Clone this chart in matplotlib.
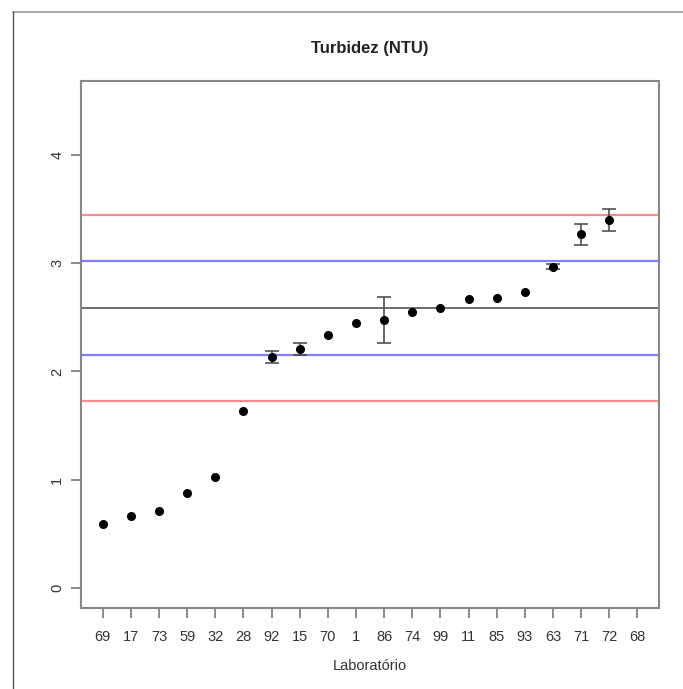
import numpy as np
import matplotlib
matplotlib.use("Agg")
import matplotlib.pyplot as plt
from matplotlib.lines import Line2D

plt.rcParams['font.family'] = ['Liberation Sans', 'DejaVu Sans']

# labs ordered by result
labs = ["69", "17", "73", "59", "32", "28", "92", "15", "70", "1",
        "86", "74", "99", "11", "85", "93", "63", "71", "72", "68"]
values = [0.591, 0.668, 0.711, 0.880, 1.023, 1.632, 2.134, 2.211, 2.334, 2.445,
          2.476, 2.547, 2.584, 2.667, 2.676, 2.737, 2.968, 3.265, 3.397, np.nan]
errors = [0, 0, 0, 0, 0, 0, 0.058, 0.055, 0, 0,
          0.214, 0, 0, 0, 0, 0, 0.025, 0.100, 0.099, 0]

center = 2.585
lim_warn = [2.155, 3.015]
lim_action = [1.725, 3.445]

fig = plt.figure(figsize=(6.83, 6.89), dpi=100)
ax = fig.add_axes([0.1186, 0.118, 0.8463, 0.7644])

x = np.arange(1, len(labs) + 1)
vals = np.array(values)
errs = np.array(errors)

ax.axhline(center, color="#555555", lw=1.2, zorder=1)
for v in lim_warn:
    ax.axhline(v, color="#8080ff", lw=1.6, zorder=1)
for v in lim_action:
    ax.axhline(v, color="#ff8a8a", lw=1.6, zorder=1)

has_err = errs > 0
ax.errorbar(x[has_err], vals[has_err], yerr=errs[has_err], fmt="none",
            ecolor="#444444", elinewidth=1.1, capsize=5, capthick=1.1, zorder=2)
ax.plot(x, vals, "o", color="black", markersize=5.5, zorder=3)

ax.set_xlim(0.23, 20.77)
ax.set_ylim(-0.18, 4.68)
ax.set_xticks(x)
ax.set_xticklabels(labs)
ax.set_yticks([0, 1, 2, 3, 4])
for lab in ax.get_yticklabels():
    lab.set_rotation(90)
    lab.set_va("center")

ax.tick_params(axis="both", direction="out", length=7, width=1.2, color="#777777",
               labelsize=10.5, labelcolor="#333333")
ax.tick_params(axis="x", pad=9)
ax.tick_params(axis="y", pad=5)
for sp in ax.spines.values():
    sp.set_color("#888888")
    sp.set_linewidth(1.5)

ax.set_title("Turbidez (NTU)", fontsize=12, fontweight="bold", color="#222222", pad=20)
ax.set_xlabel("Laboratório", fontsize=10.5, color="#333333", labelpad=11)

# outer frame of the original image
fig.add_artist(Line2D([12.5 / 683, 1], [1 - 12 / 689, 1 - 12 / 689],
                      transform=fig.transFigure, color="#999999", lw=1.2))
fig.add_artist(Line2D([12.5 / 683, 12.5 / 683], [0, 1 - 12 / 689],
                      transform=fig.transFigure, color="#555555", lw=1.0))

fig.savefig("out.png", dpi=100)
